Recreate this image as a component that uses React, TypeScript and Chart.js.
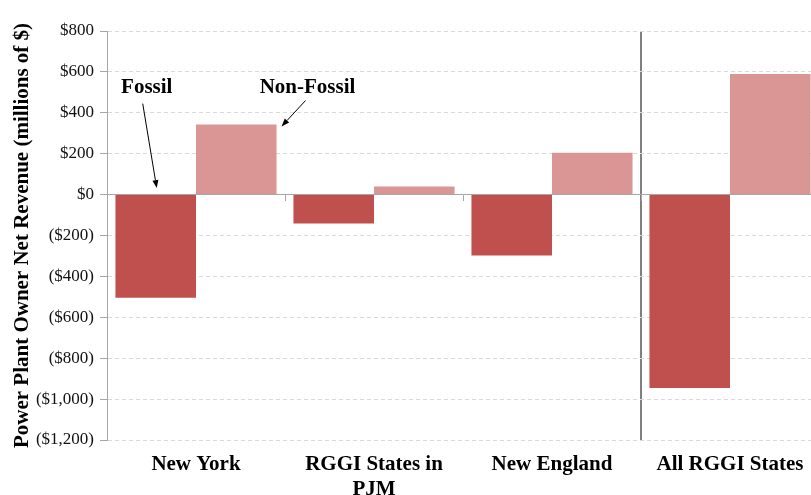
import React, { useEffect, useRef } from "react";
import { Chart, registerables } from "chart.js";

Chart.register(...registerables);

const categories: (string | string[])[] = ["New York", ["RGGI States in", "PJM"], "New England", "All RGGI States"];
const fossilValues = [-505, -141, -298, -946];
const nonFossilValues = [343, 39, 205, 590];
const yMin = -1200;
const yMax = 800;
const yStep = 200;
const annotationLabels = ["Fossil", "Non-Fossil"];

const SERIF = '"Liberation Serif", "Times New Roman", serif';

function fmtMoney(v: number): string {
  const s = "$" + Math.abs(v).toLocaleString("en-US");
  return v < 0 ? "(" + s + ")" : s;
}

function drawArrow(ctx: CanvasRenderingContext2D, x1: number, y1: number, x2: number, y2: number) {
  const ang = Math.atan2(y2 - y1, x2 - x1);
  const len = 8;
  const half = 3;
  const bx = x2 - len * Math.cos(ang);
  const by = y2 - len * Math.sin(ang);
  ctx.beginPath();
  ctx.moveTo(x1, y1);
  ctx.lineTo(bx, by);
  ctx.lineWidth = 1;
  ctx.strokeStyle = "#000";
  ctx.stroke();
  ctx.beginPath();
  ctx.moveTo(x2, y2);
  ctx.lineTo(bx + half * Math.sin(ang), by - half * Math.cos(ang));
  ctx.lineTo(bx - half * Math.sin(ang), by + half * Math.cos(ang));
  ctx.closePath();
  ctx.fillStyle = "#000";
  ctx.fill();
}

const annotatePlugin = {
  id: "annotate",
  afterDatasetsDraw(chart: any) {
    const ctx: CanvasRenderingContext2D = chart.ctx;
    const y = chart.scales.y;
    const f: any = chart.getDatasetMeta(0).data[0];
    const n: any = chart.getDatasetMeta(1).data[0];
    if (!f || !n) return;
    ctx.save();
    ctx.font = `bold 21px ${SERIF}`;
    ctx.fillStyle = "#000";
    ctx.textAlign = "center";
    ctx.textBaseline = "middle";
    const textY = y.getPixelForValue(525);
    const nRight = n.x + n.width / 2;
    ctx.fillText(annotationLabels[0], f.x - 9, textY);
    ctx.fillText(annotationLabels[1], nRight + 31, textY);
    drawArrow(ctx, f.x - 13, y.getPixelForValue(445), f.x + 1, f.base - 7);
    drawArrow(ctx, nRight + 29, y.getPixelForValue(460), nRight + 5, n.y + 2);
    ctx.restore();
  },
};

export default function App() {
  const ref = useRef<HTMLCanvasElement | null>(null);

  useEffect(() => {
    if (!ref.current) return;
    const chart = new Chart(ref.current, {
      type: "bar",
      data: {
        labels: categories as any,
        datasets: [
          {
            label: "Fossil",
            data: fossilValues,
            backgroundColor: "#C0504D",
            borderWidth: 0,
          },
          {
            label: "Non-Fossil",
            data: nonFossilValues,
            backgroundColor: "#D99694",
            borderWidth: 0,
          },
        ],
      },
      options: {
        animation: false,
        responsive: false,
        devicePixelRatio: 1,
        layout: { padding: { left: 0, right: 11, top: 31, bottom: 0 } },
        plugins: {
          legend: { display: false },
          tooltip: { enabled: false },
        },
        datasets: {
          bar: { categoryPercentage: 0.905, barPercentage: 1.0 },
        },
        scales: {
          x: {
            type: "category",
            position: "bottom",
            offset: true,
            grid: {
              offset: true,
              drawTicks: false,
              color: (ctx: any) => (ctx.index === 3 ? "#7f7f7f" : "rgba(0,0,0,0)"),
              lineWidth: (ctx: any) => (ctx.index === 3 ? 2 : 0),
            },
            border: { display: false },
            ticks: {
              color: "#000",
              padding: 13,
              maxRotation: 0,
              autoSkip: false,
              font: { family: SERIF, size: 21, weight: "bold", lineHeight: 1.15 },
            },
            afterFit: (scale: any) => {
              scale.height = 55;
            },
          },
          x2: {
            type: "category",
            position: { y: 0 } as any,
            offset: true,
            z: 1,
            grid: {
              offset: true,
              drawOnChartArea: false,
              drawTicks: true,
              tickLength: 6,
              tickColor: "#a6a6a6",
            },
            border: { display: true, color: "#a6a6a6", width: 1 },
            ticks: { display: false },
          },
          y: {
            min: yMin,
            max: yMax,
            ticks: {
              stepSize: yStep,
              color: "#111",
              padding: 6,
              font: { family: SERIF, size: 17 },
              callback: (v: any) => fmtMoney(Number(v)),
            },
            grid: {
              color: "#d9d9d9",
              lineWidth: 1,
              drawTicks: true,
              tickLength: 7,
              tickColor: "#a6a6a6",
            },
            border: { display: true, color: "#a6a6a6", width: 1, dash: [4, 3] },
            title: {
              display: true,
              text: "Power Plant Owner Net Revenue (millions of $)",
              color: "#000",
              font: { family: SERIF, size: 21, weight: "bold" },
              padding: { top: 10, bottom: 0 },
            },
            afterFit: (scale: any) => {
              scale.width = 107;
            },
          },
        },
      } as any,
      plugins: [annotatePlugin],
    });
    return () => chart.destroy();
  }, []);

  return (
    <div
      style={{
        position: "fixed",
        left: 0,
        top: 0,
        width: 811,
        height: 495,
        overflow: "hidden",
        background: "#fff",
      }}
    >
      <canvas ref={ref} width={830} height={495} style={{ display: "block" }} />
    </div>
  );
}
